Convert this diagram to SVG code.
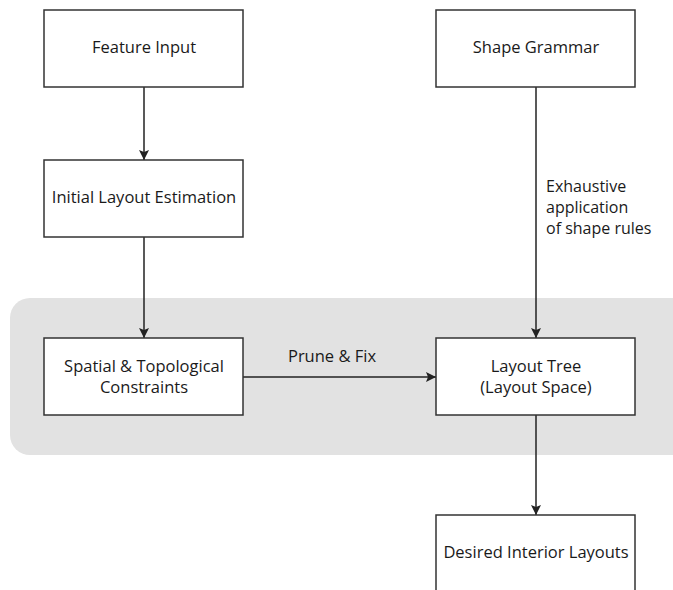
<svg xmlns="http://www.w3.org/2000/svg" width="673" height="590" viewBox="0 0 673 590">
<defs>
<marker id="ah" markerWidth="10" markerHeight="12" refX="10" refY="5" orient="auto" markerUnits="userSpaceOnUse">
<path d="M0,0 L10,5 L0,10 L2,5 Z" fill="#222"/>
</marker>
<style>
.box{fill:#fff;stroke:#333;stroke-width:1.5}
.t{font-family:"Open Sans","Noto Sans",sans-serif;font-size:16.5px;fill:#1a1a1a;text-anchor:middle}
.l{font-family:"Open Sans","Noto Sans",sans-serif;font-size:16px;fill:#1a1a1a}
.c{stroke:#222;stroke-width:1.5;fill:none;marker-end:url(#ah)}
</style>
</defs>
<rect width="673" height="590" fill="#fff"/>
<rect id="panel" x="10" y="298" width="683" height="157" rx="20" fill="#e2e2e2"/>
<g id="connectors">
<line class="c" x1="144" y1="87" x2="144" y2="160"/>
<line class="c" x1="144" y1="237" x2="144" y2="338"/>
<line class="c" x1="536" y1="87" x2="536" y2="338"/>
<line class="c" x1="243" y1="377" x2="436" y2="377"/>
<line class="c" x1="536" y1="415" x2="536" y2="515"/>
<text class="t" x="332" y="362">Prune &amp; Fix</text>
<text class="l" x="546" y="192">Exhaustive</text>
<text class="l" x="546" y="213">application</text>
<text class="l" x="546" y="234">of shape rules</text>
</g>
<g id="feature-input">
<rect class="box" x="44" y="10" width="199" height="77"/>
<text class="t" x="144" y="53">Feature Input</text>
</g>
<g id="initial-layout">
<rect class="box" x="44" y="160" width="199" height="77"/>
<text class="t" x="144" y="203">Initial Layout Estimation</text>
</g>
<g id="spatial">
<rect class="box" x="44" y="338" width="199" height="77"/>
<text class="t" x="144" y="372">Spatial &amp; Topological</text>
<text class="t" x="144" y="393">Constraints</text>
</g>
<g id="shape-grammar">
<rect class="box" x="436" y="10" width="199" height="77"/>
<text class="t" x="536" y="53">Shape Grammar</text>
</g>
<g id="layout-tree">
<rect class="box" x="436" y="338" width="199" height="77"/>
<text class="t" x="536" y="372">Layout Tree</text>
<text class="t" x="536" y="393">(Layout Space)</text>
</g>
<g id="desired">
<rect class="box" x="436" y="515" width="199" height="90"/>
<text class="t" x="536" y="558">Desired Interior Layouts</text>
</g>
</svg>
